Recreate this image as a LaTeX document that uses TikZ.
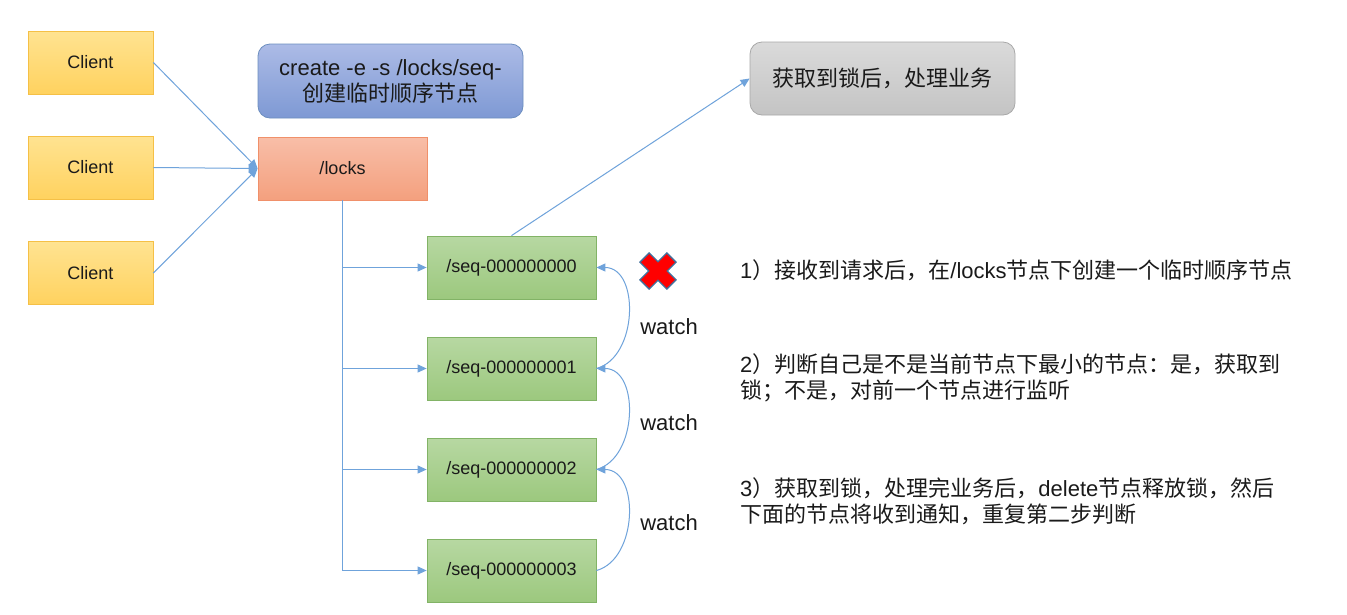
\documentclass[tikz,border=0pt]{standalone}
\usepackage{fontspec}
\setmainfont{Liberation Sans}
\newfontfamily\cjk{Noto Sans CJK SC}
\usetikzlibrary{arrows.meta}
\definecolor{lineblue}{HTML}{6FA3DB}
\definecolor{txt}{HTML}{1A1A1A}
\begin{document}
\begin{tikzpicture}[x=1pt,y=-1pt,
  box/.style={draw, line width=0.8pt, inner sep=0pt, text=txt, align=center},
  clientbox/.style={box, minimum width=125pt, minimum height=63pt, top color={rgb,255:red,255;green,227;blue,145}, bottom color={rgb,255:red,255;green,210;blue,95}, draw={rgb,255:red,245;green,192;blue,70}, font=\fontsize{18}{22}\selectfont},
  cmdbox/.style={box, rounded corners=12pt, minimum width=265pt, minimum height=74pt, top color={rgb,255:red,172;green,187;blue,230}, bottom color={rgb,255:red,126;green,153;blue,212}, draw={rgb,255:red,108;green,142;blue,191}, font=\fontsize{22}{26}\selectfont},
  lockbox/.style={box, minimum width=169pt, minimum height=63pt, top color={rgb,255:red,248;green,190;blue,168}, bottom color={rgb,255:red,244;green,160;blue,126}, draw={rgb,255:red,240;green,144;blue,106}, font=\fontsize{18}{22}\selectfont},
  graybox/.style={box, rounded corners=12pt, minimum width=265pt, minimum height=73pt, top color={rgb,255:red,218;green,218;blue,218}, bottom color={rgb,255:red,196;green,196;blue,196}, draw={rgb,255:red,168;green,168;blue,168}, font=\fontsize{22}{26}\selectfont},
  seqbox/.style={box, minimum width=169pt, minimum height=63pt, top color={rgb,255:red,183;green,216;blue,162}, bottom color={rgb,255:red,156;green,200;blue,126}, draw={rgb,255:red,130;green,179;blue,102}, font=\fontsize{18}{22}\selectfont},
  conn/.style={draw=lineblue, line width=1pt},
  arr/.style={conn, -{Triangle[length=9pt,width=8pt]}},
  watchlbl/.style={text=txt, font=\fontsize{22}{26}\selectfont, inner sep=0pt},
  note/.style={text=txt, anchor=west, align=left, inner sep=0pt, font=\fontsize{22}{26}\selectfont}
]
\useasboundingbox (0,0) rectangle (1347,614);
\fill[white] (0,0) rectangle (1347,614);

% clients
\node[clientbox] (c1) at (90.5,62.5) {Client};
\node[clientbox] (c2) at (90.5,167.5) {Client};
\node[clientbox] (c3) at (90.5,273) {Client};

% command and locks
\node[cmdbox] (cmd) at (390.5,81) {create -e -s /locks/seq-\\{\cjk 创建临时顺序节点}};
\node[lockbox] (locks) at (342.5,168.5) {/locks};

% gray result box
\node[graybox] (res) at (882.5,78.5) {\cjk 获取到锁后，处理业务};

% seq nodes
\node[seqbox] (s0) at (511.5,267.5) {/seq-000000000};
\node[seqbox] (s1) at (511.5,368.5) {/seq-000000001};
\node[seqbox] (s2) at (511.5,469.5) {/seq-000000002};
\node[seqbox] (s3) at (511.5,570.5) {/seq-000000003};

% client arrows
\draw[arr] (c1.east) -- (locks.west);
\draw[arr] (c2.east) -- (locks.west);
\draw[arr] (c3.east) -- (locks.west);

% trunk and branches
\coordinate (trunkend) at (locks.south |- s3.west);
\draw[conn] (locks.south) -- (trunkend);
\draw[arr] (locks.south |- s0.west) -- (s0.west);
\draw[arr] (locks.south |- s1.west) -- (s1.west);
\draw[arr] (locks.south |- s2.west) -- (s2.west);
\draw[arr] (trunkend) -- (s3.west);

% to result
\draw[arr] (s0.north) -- (res.west);

% watch arrows
\draw[arr] (s1.east) to[out=15,in=0,looseness=1.1] (s0.east);
\draw[arr] (s2.east) to[out=15,in=0,looseness=1.1] (s1.east);
\draw[arr] (s3.east) to[out=15,in=0,looseness=1.1] (s2.east);
\node[watchlbl] (w1) at (669,327) {watch};
\node[watchlbl] (w2) at (669,423) {watch};
\node[watchlbl] (w3) at (669,523) {watch};

% red cross
\begin{scope}[shift={(658,271)}, rotate=45]
\filldraw[fill=red, draw={rgb,255:red,65;green,113;blue,156}, line width=1.3pt, line join=miter]
  (6.5,19) -- (6.5,6.5) -- (19,6.5) -- (19,-6.5) -- (6.5,-6.5) -- (6.5,-19) -- (-6.5,-19) -- (-6.5,-6.5) -- (-19,-6.5) -- (-19,6.5) -- (-6.5,6.5) -- (-6.5,19) -- cycle;
\end{scope}

% notes
\node[note] (n1) at (740,270) {1{\cjk ）接收到请求后，在}/locks{\cjk 节点下创建一个临时顺序节点}};
\node[note] (n2) at (740,378) {2{\cjk ）判断自己是不是当前节点下最小的节点：是，获取到}\\{\cjk 锁；不是，对前一个节点进行监听}};
\node[note] (n3) at (740,501) {3{\cjk ）获取到锁，处理完业务后，}delete{\cjk 节点释放锁，然后}\\{\cjk 下面的节点将收到通知，重复第二步判断}};
\end{tikzpicture}
\end{document}
